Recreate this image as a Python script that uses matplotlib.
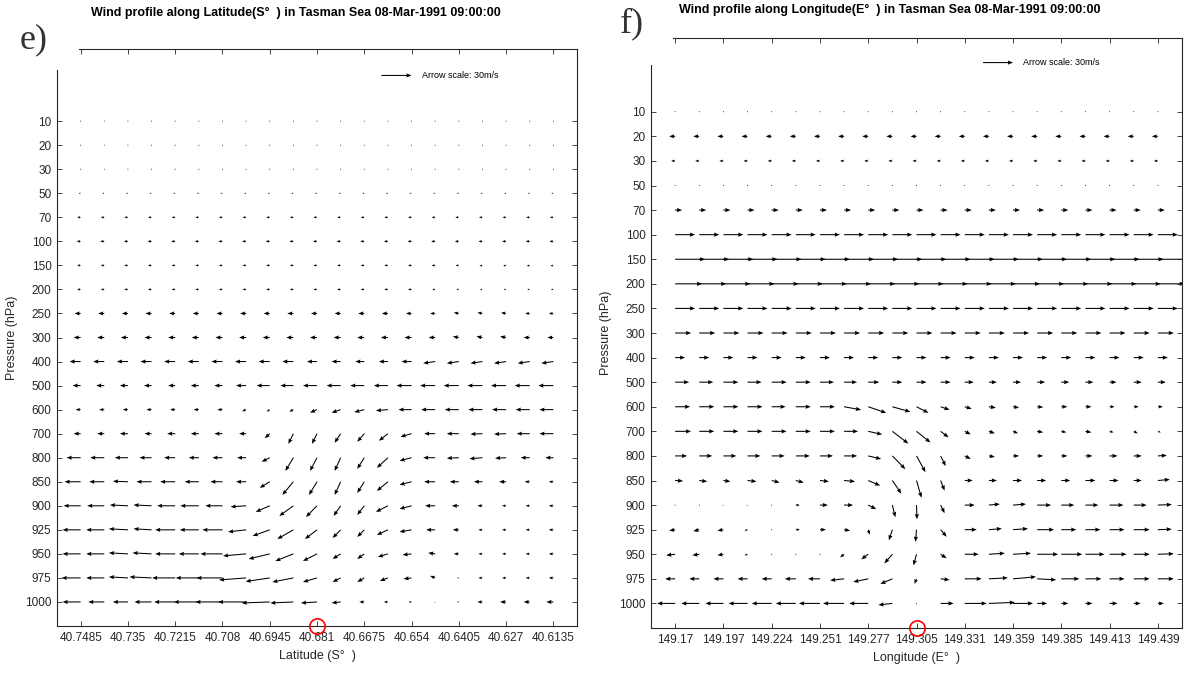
import numpy as np
import matplotlib
matplotlib.use('Agg')
import matplotlib.pyplot as plt
from matplotlib.patches import Rectangle

plt.rcParams['font.family'] = ['Liberation Sans', 'DejaVu Sans']

# pressure levels, top of the plot first
levels = [10, 20, 30, 50, 70, 100, 150, 200, 250, 300, 400, 500,
          600, 700, 800, 850, 900, 925, 950, 975, 1000]

lat_ticklabels = ['40.7485', '40.735', '40.7215', '40.708', '40.6945', '40.681',
                  '40.6675', '40.654', '40.6405', '40.627', '40.6135']
lon_ticklabels = ['149.17', '149.197', '149.224', '149.251', '149.277', '149.305',
                  '149.331', '149.359', '149.385', '149.413', '149.439']

# e) panel: horizontal wind u (m/s) per level, 21 points along latitude
lat_u = [
    [-0.8, -0.8, -0.8, -0.8, -0.8, -0.8, -0.8, -0.8, -0.8, -0.8, -0.8, -0.8, -0.8, -0.8, -0.8, -0.8, -0.8, -0.8, -0.8, -0.8, -0.8],
    [-0.5, -0.5, -0.5, -0.5, -0.5, -0.5, -0.5, -0.5, -0.5, -0.5, -0.5, -0.5, -0.5, -0.5, -0.5, -0.5, -0.5, -0.5, -0.5, -0.5, -0.5],
    [-0.8, -0.8, -0.8, -0.8, -0.8, -0.8, -0.8, -0.8, -0.8, -0.8, -0.8, -0.8, -0.8, -0.8, -0.8, -0.8, -0.8, -0.8, -0.8, -0.8, -0.8],
    [-2, -2, -2, -2, -2, -2, -2, -2, -2, -2, -2, -2, -2, -2, -2, -2, -2, -2, -2, -2, -2],
    [-3.5, -3.5, -3.5, -3.5, -3.5, -3.5, -3.5, -3.5, -3.5, -3.5, -3.5, -3.5, -3.5, -3.5, -3.5, -3.5, -3.5, -3.5, -3.5, -3.5, -3.5],
    [-4, -4, -4, -4, -4, -4, -4, -4, -4, -4, -4, -4, -4, -4, -4, -4, -4, -4, -4, -4, -4],
    [-3.5, -3.5, -3.5, -3.5, -3.5, -3.5, -3.5, -3.5, -3.5, -3.5, -3.5, -3.5, -3.5, -3.5, -3.5, -3.5, -3.2, -3, -3, -3, -3],
    [-3.5, -3.5, -3.5, -3.5, -3.5, -3.5, -3.5, -3.5, -3.5, -3.5, -3.5, -3.5, -3.5, -3.5, -3.5, -3, -2.5, -2.5, -2.5, -2.5, -2.5],
    [-6, -6, -6, -6, -6, -6, -6, -6, -6, -6, -6, -6, -6, -6, -5.5, -5, -5, -5, -5, -4.5, -4.5],
    [-7, -7, -7, -7, -7, -7, -7, -7, -7, -7, -7, -7, -7, -7, -7, -6.5, -6, -6, -6, -6, -6],
    [-11, -11, -11, -11, -11, -11, -11, -11, -11, -11, -10, -9, -9, -9, -10, -12, -12, -12, -12, -12, -12],
    [-8, -8, -8, -7.5, -7, -8, -8, -10, -13, -13, -14, -14, -14, -14, -15, -15, -15, -15, -15, -15, -15],
    [-5, -5, -5, -5, -5, -5, -5, -4, -3, -4, -7, -9, -10, -12, -13, -14, -14, -14, -14, -14, -14],
    [-7, -7, -8, -7, -8, -8, -8, -7, -5, -5, -5, -6, -7, -9, -11, -11, -12, -12, -12, -13, -14],
    [-14, -14, -13, -12, -11, -10, -10, -9, -8, -8, -7, -6, -7, -11, -12, -12, -12, -13, -11, -9, -8],
    [-16, -15, -15, -15, -15, -14, -12, -10, -10, -11, -8, -6, -7, -11, -12, -11, -9, -8.5, -7, -5, -4.5],
    [-17, -17, -18, -18, -18, -18.5, -17, -15.5, -14, -14, -11, -7, -7, -12, -12, -10, -7, -5, -4, -4, -4.5],
    [-18, -18, -19, -18, -20, -19, -20, -18, -17, -16, -12, -8, -7, -11, -12, -9, -6, -4, -4, -4, -4.5],
    [-18, -18, -19, -19, -20, -20, -22, -23, -21, -18, -14, -8, -7, -10, -9, -7, -5, -4, -4, -4, -4.5],
    [-19, -18, -19, -22, -23, -23, -26, -27, -24, -21, -14, -8, -7, -8, -8, -5, -2, -4, -4, -4, -4.5],
    [-18, -16, -15, -17, -21, -25, -27, -28, -28, -23, -16, -9, -5, -4, -3, -0.5, -2, -5, -6, -6, -7],
]
# e) panel: vertical component (same scale)
lat_v = [
    [0, 0, 0, 0, 0, 0, 0, 0, 0, 0, 0, 0, 0, 0, 0, 0, 0, 0, 0, 0, 0],
    [0, 0, 0, 0, 0, 0, 0, 0, 0, 0, 0, 0, 0, 0, 0, 0, 0, 0, 0, 0, 0],
    [0, 0, 0, 0, 0, 0, 0, 0, 0, 0, 0, 0, 0, 0, 0, 0, 0, 0, 0, 0, 0],
    [0, 0, 0, 0, 0, 0, 0, 0, 0, 0, 0, 0, 0, 0, 0, 0, 0, 0, 0, 0, 0],
    [0, 0, 0, 0, 0, 0, 0, 0, 0, 0, 0, 0, 0, 0, 0, 0, 0, 0, 0, 0, 0],
    [0, 0, 0, 0, 0, 0, 0, 0, 0, 0, 0, 0, 0, 0, 0, 0, 0, 0, 0, 0, 0],
    [0, 0, 0, 0, 0, 0, 0, 0, 0, 0, 0, 0, 0, 0, 0, 0, 0, -0.5, -0.6, -0.6, -0.6],
    [0, 0, 0, 0, 0, 0, 0, 0, 0, 0, 0, 0, 0, 0, 0, 0, 0, 0, 0, 0, 0],
    [0, 0, 0, 0, 0, 0, 0, 0, 0, 0, 0, 0, 0, 0, 0, 0, 0.8, 0.8, 0.8, 0, 0],
    [0, 0, 0, 0, 0, 0, 0, 0, 0, 0, 0, 0, 0, 0, 0, 0, 1, 1, 1, 0, 0],
    [0, 0, 0, 0, 0, 0, 0, 0, 0, 0, 0, 0, 0, 0, 0, -1.7, -1.7, -1.7, -1.7, -1.7, -1.7],
    [0, 0, 0, 0, 0, 0, 0, 0, 0, 0, 0, 0, 0, 0, 0, 0, 0, 0, 0, 0, 0],
    [0, 0, 0, 0, 0, 0, 0, -1.5, -2, -2, -3, -3, -2.5, -1, 0, 0, 0, 0, 0, 0, 0],
    [0, 0, 0, 0, 0, 0, 0, 0, -4.5, -10, -10, -9, -8, -7, -3, 0, 0, -0.5, -0.5, 0, 0],
    [0, 0, 0, 0, 0, 0, 0, 0, -4, -13, -13, -13, -11, -10, -3, 0, -0.5, -1, -0.5, 0, 0],
    [0, 0, 0.5, 0, 0, 0, 0, 0, -6, -13, -13, -13, -11, -9, -3, 0, 0, 0, 0, 0, 0],
    [0, 0, 0.8, 0.8, 0, 0, 0, -1, -6, -10, -11, -10, -9, -6, -3, 0, 0, 0, 0, 0, 0],
    [0, 0, 1, 1, 0, 0, 0, -2, -6, -9, -9, -8, -7, -5, -2, 0, 0, 0, 0, 0, 0],
    [0, 0, 1, 1, 0, 0, 0, -2, -5, -7, -7, -5, -5, -3, -1, 1, 0, 0, 0, 0, 0],
    [0, 0, 1, 1, 0, 0, 0, -2, -3.5, -4, -4, -4, -4, -3, -1, 2, 0, 0, 0, 0, 0],
    [0, 0, 0, 0, 0, 0, 0, 0, -1, -1, -1, -1, 0, 0, 0, -1, 0, 0, 0, 0, 0],
]

# f) panel: horizontal wind u (m/s) per level, 21 points along longitude
lon_u = [
    [0.8, 0.8, 0.8, 0.8, 0.8, 0.8, 0.8, 0.8, 0.8, 0.8, 0.8, 0.8, 0.8, 0.8, 0.8, 0.8, 0.8, 0.8, 0.8, 0.8, 0.8],
    [-6, -6, -6, -6, -6, -6, -6, -6, -6, -6, -6, -6, -6, -6, -6, -6, -6, -6, -6, -6, -6],
    [-4, -4, -4, -4, -4, -4, -4, -4, -4, -4, -4, -4, -4, -4, -4, -4, -4, -4, -4, -4, -4],
    [0.8, 0.8, 0.8, 0.8, 0.8, 0.8, 0.8, 0.8, 0.8, 0.8, 0.8, 0.8, 0.8, 0.8, 0.8, 0.8, 0.8, 0.8, 0.8, 0.8, 0.8],
    [7, 7, 7, 7, 7, 7, 7, 7, 7, 7, 7, 7, 7, 7, 7, 7, 7, 7, 7, 7, 7],
    [20, 20, 20, 20, 20, 20, 20, 20, 20, 20, 20, 20, 20, 20, 20, 20, 20, 20, 20, 20, 20],
    [30, 30, 30, 30, 30, 30, 30, 30, 30, 30, 30, 30, 30, 30, 30, 30, 30, 30, 30, 30, 30],
    [27, 27, 27, 27, 27, 27, 27, 27, 27, 27, 27, 27, 27, 27, 27, 27, 27, 27, 27, 27, 27],
    [20, 20, 20, 20, 20, 20, 20, 20, 20, 20, 20, 20, 20, 20, 20, 20, 20, 20, 20, 20, 20],
    [16, 16, 16, 16, 16, 16, 16, 16, 16, 16, 16, 16, 16, 16, 16, 16, 16, 16, 16, 16, 16],
    [10, 10, 10, 10, 10, 10, 10, 10, 10, 10, 10, 10, 10, 10, 10, 10, 10, 10, 10, 10, 10],
    [14, 14, 15, 14, 15, 15, 14, 13, 11, 10, 10, 10, 9, 8, 8, 8, 8, 8, 7, 8, 8],
    [15, 15, 15, 15, 14, 15, 15, 17, 18, 18, 12, 9, 7, 7, 6, 6, 6, 6, 5, 5, 5],
    [16, 15, 15, 15, 15, 15, 15, 14, 14, 16, 14, 8, 6, 6, 5, 6, 5, 6, 4, 4, 3],
    [12, 13, 13, 13, 13, 14, 13, 13, 13, 13, 9, 5, 6, 6, 6, 6, 6, 7, 8, 8, 9],
    [8, 8, 7, 9, 8, 8, 9, 11, 12, 9, 5, 4, 8, 8, 9, 9, 9, 10, 9, 8, 12],
    [0.5, 0.5, -1, -1, 0.5, 4, 8, 9, 8, 3, 0.5, 4, 10, 11, 13, 14, 13, 13, 14, 13, 14],
    [-6, -6, -6, -3, 0.5, 4, 6, 6, 1.5, -3.5, -1, 6, 12, 13, 15, 17, 15, 15, 15, 16, 14],
    [-9, -7, -6, -3, 0.5, 0.5, -0.5, -4, -7, -8, -3, 6, 14, 16, 18, 21, 21, 19, 17, 16, 16],
    [-10, -10, -10, -10, -10, -11, -12, -14, -15, -12, -2, 9, 17, 19, 23, 19, 18, 16, 15, 16, 16],
    [-18, -18, -18, -19, -20, -20, -21, -21, -19, -14, 0.3, 13, 22, 26, 20, 10, 7, 7, 8, 7, 6],
]
lon_v = [
    [0, 0, 0, 0, 0, 0, 0, 0, 0, 0, 0, 0, 0, 0, 0, 0, 0, 0, 0, 0, 0],
    [0, 0, 0, 0, 0, 0, 0, 0, 0, 0, 0, 0, 0, 0, 0, 0, 0, 0, 0, 0, 0],
    [0, 0, 0, 0, 0, 0, 0, 0, 0, 0, 0, 0, 0, 0, 0, 0, 0, 0, 0, 0, 0],
    [0, 0, 0, 0, 0, 0, 0, 0, 0, 0, 0, 0, 0, 0, 0, 0, 0, 0, 0, 0, 0],
    [0, 0, 0, 0, 0, 0, 0, 0, 0, 0, 0, 0, 0, 0, 0, 0, 0, 0, 0, 0, 0],
    [0, 0, 0, 0, 0, 0, 0, 0, 0, 0, 0, 0, 0, 0, 0, 0, 0, 0, 0, 0, 0],
    [0, 0, 0, 0, 0, 0, 0, 0, 0, 0, 0, 0, 0, 0, 0, 0, 0, 0, 0, 0, 0],
    [0, 0, 0, 0, 0, 0, 0, 0, 0, 0, 0, 0, 0, 0, 0, 0, 0, 0, 0, 0, 0],
    [0, 0, 0, 0, 0, 0, 0, 0, 0, 0, 0, 0, 0, 0, 0, 0, 0, 0, 0, 0, 0],
    [0, 0, 0, 0, 0, 0, 0, 0, 0, 0, 0, 0, 0, 0, 0, 0, 0, 0, 0, 0, 0],
    [0, 0, 0, 0, 0, 0, 0, 0, 0, 0, 0, 0, 0, 0, 0, 0, 0, 0, 0, 0, 0],
    [0, 0, 0, 0, 0, 0, 0, 0, 0, 0, 0, 0, 0, 0, 0, 0, 0, 0, 0, 0, 0],
    [0, 0, 0, 0, 0, 0, 0, -3, -6, -5, -6, -3, -2, -1, -1, -0.5, 0, 0, 0, 0, 0],
    [0, 0, 0, 0, 0, 0, 0, 0, -3, -12, -11, -6, -3, -2, -2, -1, -1, -1, -1, -2, -1],
    [0, 0, 0, 0, 0, 0, 0, 0, -3, -13, -16, -10, -3, -1, 0, 0, 0, 0, 0, 0, 0.5],
    [-0.5, -1, -1, -1, -2, -2, -1, -1, -5, -13, -17, -10, 0, 0, 0, 0, 0, 0, 0, 0, 1],
    [0, 0, -1, -1, 0, 0, 0, 0, -4, -12, -14, -8, 0, 1, 1, 0, 0, 0, 0, 0, 0.5],
    [-1, -1.5, -1, -1, 0, 0, 0, -1, -5, -10.5, -12, -7, 0, 1, 1, 0, 0, 0, 0, 0, 0.5],
    [-1, -1, -1, -1, 0, 0, 0, -3, -5, -9, -11, -4, 0, 1, 1, 0, 0, 0, 0, 0, 0.5],
    [0, 0, 0, 0, 0, 0, 0, -1.5, -3, -5, -5, -1, 0, 1, 2, -1, 0, 0, 0, 0, 0],
    [0, 0, 0, 0, 0, 0, 0, 0, 0, -1.5, -0.5, 0, 0, 1, 0, 0, 0, 0, 0, 0, 0],
]

W, H = 1184, 673
fig = plt.figure(figsize=(W / 100, H / 100), dpi=100)
ax1 = fig.add_axes([57 / W, 1 - 626 / H, 520 / W, 577 / H])
ax2 = fig.add_axes([651 / W, 1 - 628 / H, 531 / W, 590 / H])

cols = np.arange(1, 22)
rows = np.arange(len(levels), 0, -1)
X, Y = np.meshgrid(cols, rows)


def panel(ax, u, v, ticklabels, xlabel, scale, key_y):
    q = ax.quiver(X, Y, np.array(u), np.array(v), angles='xy', scale_units='xy',
                  scale=scale, pivot='tail', color='black', width=0.002,
                  headwidth=4, headlength=5, headaxislength=4.5, minshaft=1.2)
    ax.quiverkey(q, 15.0, key_y, 30, 'Arrow scale: 30m/s', labelpos='E',
                 coordinates='data', labelsep=0.1, fontproperties={'size': 6.5})
    ax.set_xlim(0, 22)
    ax.set_ylim(0, 24)
    ax.set_xticks(cols[::2])
    ax.set_xticklabels(ticklabels)
    ax.set_yticks(rows)
    ax.set_yticklabels([str(p) for p in levels])
    ax.tick_params(direction='in', top=True, right=True, length=3.5, width=0.6,
                   labelsize=8.5, labelcolor='#262626', color='#262626', pad=4)
    for s in ax.spines.values():
        s.set_color('#262626')
        s.set_linewidth(0.8)
    ax.set_xlabel(xlabel, fontsize=9, color='#262626', labelpad=5)
    ax.set_ylabel('Pressure (hPa)', fontsize=9, color='#262626', labelpad=5)
    # red circle marking the storm centre column
    ax.plot(11, 0, 'o', ms=11, mfc='none', mec='red', mew=1.2, clip_on=False, zorder=6)


panel(ax1, lat_u, lat_v, lat_ticklabels, 'Latitude (S°  )', 23.6, 22.9)
panel(ax2, lon_u, lon_v, lon_ticklabels, 'Longitude (E°  )', 24.15, 23.0)

# white patches from the pasted panel letters
fig.add_artist(Rectangle((0, 1 - 70 / H), 79 / W, 70 / H, transform=fig.transFigure,
                         facecolor='white', edgecolor='none', zorder=10))
fig.add_artist(Rectangle((590 / W, 1 - 65 / H), 83 / W, 65 / H, transform=fig.transFigure,
                         facecolor='white', edgecolor='none', zorder=10))
fig.text(34 / W, 1 - 40 / H, 'e)', family='Liberation Serif', fontsize=26,
         color='#333333', ha='center', va='center', zorder=11)
fig.text(632 / W, 1 - 24 / H, 'f)', family='Liberation Serif', fontsize=26,
         color='#333333', ha='center', va='center', zorder=11)

fig.text(296 / W, 1 - 13 / H,
         'Wind profile along Latitude(S°  ) in Tasman Sea 08-Mar-1991 09:00:00',
         ha='center', va='center', fontsize=9, fontweight='bold', zorder=11)
fig.text(890 / W, 1 - 10 / H,
         'Wind profile along Longitude(E°  ) in Tasman Sea 08-Mar-1991 09:00:00',
         ha='center', va='center', fontsize=9, fontweight='bold', zorder=11)

fig.savefig('out.png', dpi=100)
